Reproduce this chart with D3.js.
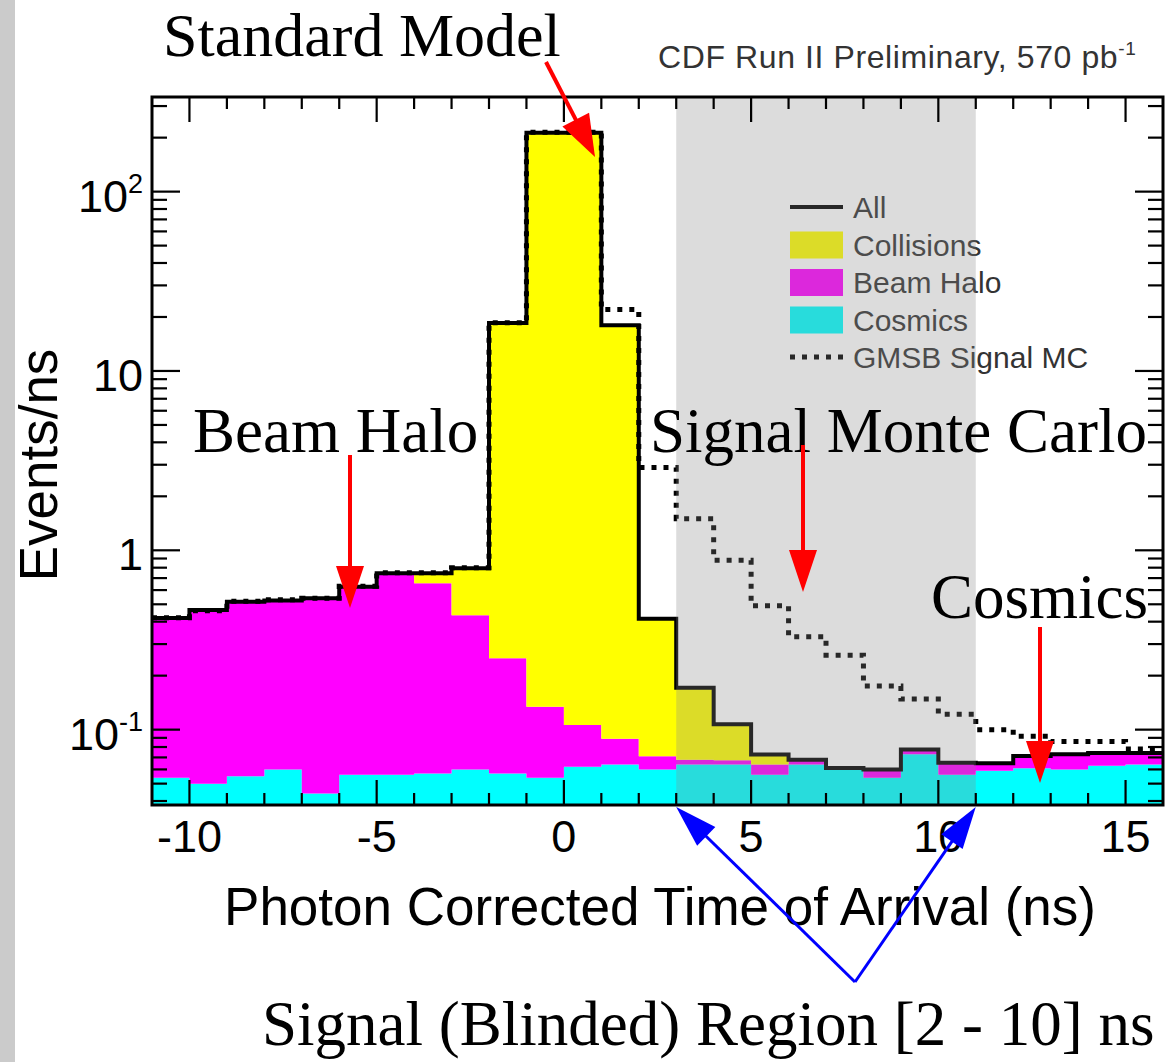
<!DOCTYPE html>
<html><head><meta charset="utf-8">
<script src="https://cdn.jsdelivr.net/npm/d3@7"></script>
<style>html,body{margin:0;padding:0;background:#fff}</style>
</head><body><svg id="c" width="1169" height="1062"></svg>
<script>
// ---- data (bin lower edges, 1 ns bins) ----
const binStart = [-11,-10,-9,-8,-7,-6,-5,-4,-3,-2,-1,0,1,2,3,4,5,6,7,8,9,10,11,12,13,14,15];
const binEndLast = 16;
const cosmics = [0.054,0.050,0.055,0.060,0.044,0.056,0.056,0.057,0.060,0.057,0.054,0.062,0.064,0.060,0.064,0.064,0.056,0.064,0.060,0.054,0.073,0.056,0.059,0.061,0.060,0.063,0.064];
const beamHalo = [0.365,0.414,0.462,0.465,0.496,0.571,0.688,0.598,0.375,0.193,0.080,0.044,0.025,0.011,0.004,0.0035,0.008,0.004,0.0012,0.006,0.0046,0.0093,0.006,0.0103,0.013,0.011,0.010];
const collisions = [0,0,0,0,0,0,0,0.09,0.359,18.25,212.9,212.9,17.9,0.344,0.103,0.0395,0.0086,0,0,0,0,0,0,0,0,0,0];
const gmsb = [0.42,0.46,0.52,0.53,0.54,0.63,0.75,0.75,0.80,18.6,214,214,22,2.9,1.5,0.88,0.49,0.33,0.26,0.175,0.148,0.122,0.100,0.092,0.086,0.086,0.078];
const blindedRegion = [3, 11];
const xTicks = [-10,-5,0,5,10,15];
const xTickLabels = ["-10","-5","0","5","10","15"];
const yTicks = [0.1,1,10,100];
const yTickBase = ["10","1","10","10"];
const yTickExp = ["-1","","","2"];
const legendLabels = ["All","Collisions","Beam Halo","Cosmics","GMSB Signal MC"];

// ---- setup ----
const svg = d3.select('#c');
const W = 1169, H = 1062;
const P = {left:152, right:1163, top:97, bottom:805};
const x = d3.scaleLinear().domain([-11,16]).range([P.left,P.right]);
const y = d3.scaleLog().domain([0.038,337]).range([P.bottom,P.top]);
const SANS = "'Liberation Sans', Arial, Helvetica, sans-serif";
const SERIF = "'Liberation Serif', 'Times New Roman', serif";

svg.append('rect').attr('width',W).attr('height',H).attr('fill','#fff');
svg.append('rect').attr('x',0).attr('y',0).attr('width',15).attr('height',H).attr('fill','#cbcbcb');

svg.append('clipPath').attr('id','clip').append('rect')
  .attr('x',P.left).attr('y',P.top).attr('width',P.right-P.left).attr('height',P.bottom-P.top);

const rows = binStart.map((b,i)=>({t:b, cos:cosmics[i], halo:beamHalo[i], coll:collisions[i], sig:gmsb[i]}));
rows.push(Object.assign({}, rows[rows.length-1], {t:binEndLast}));

const stack = d3.stack().keys(['cos','halo','coll'])(rows);
const fills = {cos:'#00ffff', halo:'#ff00ff', coll:'#ffff00'};
const g = svg.append('g').attr('clip-path','url(#clip)');
const area = d3.area().curve(d3.curveStepAfter)
  .x(d=>x(d.data.t))
  .y0(d=> d[0]>0 ? y(d[0]) : P.bottom)
  .y1(d=> d[1]>0 ? y(d[1]) : P.bottom);
g.selectAll('path.fill').data(stack).join('path')
  .attr('class','fill').attr('d',area).attr('fill',s=>fills[s.key]).attr('stroke','none');

const allLine = d3.line().curve(d3.curveStepAfter).x(d=>x(d.t)).y(d=>y(d.cos+d.halo+d.coll));
g.append('path').datum(rows).attr('d',allLine).attr('fill','none').attr('stroke','#000').attr('stroke-width',4);
const sigLine = d3.line().curve(d3.curveStepAfter).x(d=>x(d.t)).y(d=>y(d.sig));
g.append('path').datum(rows).attr('d',sigLine).attr('fill','none').attr('stroke','#000')
  .attr('stroke-width',5).attr('stroke-dasharray','5,7');

// ---- legend ----
const LX = 790, LW = 53, LT = 853;
const ly = d3.scalePoint().domain(legendLabels).range([207,357]);
const lg = svg.append('g');
legendLabels.forEach((lab,i)=>{
  const cy = ly(lab);
  if(i===0) lg.append('line').attr('x1',LX).attr('x2',LX+LW).attr('y1',cy).attr('y2',cy).attr('stroke','#000').attr('stroke-width',4);
  else if(i===4) lg.append('line').attr('x1',LX).attr('x2',LX+LW).attr('y1',cy).attr('y2',cy).attr('stroke','#000').attr('stroke-width',5).attr('stroke-dasharray','5,7');
  else lg.append('rect').attr('x',LX).attr('y',cy-13).attr('width',LW).attr('height',27)
        .attr('fill',[null,fills.coll,fills.halo,fills.cos][i]);
  lg.append('text').attr('x',LT).attr('y',cy+11).attr('font-family',SANS).attr('font-size',30)
    .attr('fill','#333').text(lab);
});

// ---- blinded region overlay ----
svg.append('rect').attr('x',x(blindedRegion[0])).attr('y',P.top)
  .attr('width',x(blindedRegion[1])-x(blindedRegion[0])).attr('height',P.bottom-P.top)
  .attr('fill','rgb(136,136,136)').attr('opacity',0.294);

// ---- frame & ticks ----
const ax = svg.append('g').attr('stroke','#000');
const xMinor = d3.range(-10,16,1);
xMinor.forEach(v=>{
  const len = (v%5===0)?25:12;
  ax.append('line').attr('x1',x(v)).attr('x2',x(v)).attr('y1',P.bottom).attr('y2',P.bottom-len).attr('stroke-width',2.2);
  ax.append('line').attr('x1',x(v)).attr('x2',x(v)).attr('y1',P.top).attr('y2',P.top+len).attr('stroke-width',2.2);
});
const [ymin,ymax] = y.domain();
const yMinor = [];
[0.01,0.1,1,10,100].forEach(d=>{ for(let m=1;m<=9;m++){ const v=m*d; if(v>=ymin && v<=ymax) yMinor.push({v, major:m===1}); } });
yMinor.forEach(o=>{
  const len = o.major?28:15;
  ax.append('line').attr('x1',P.left).attr('x2',P.left+len).attr('y1',y(o.v)).attr('y2',y(o.v)).attr('stroke-width',2.2);
  ax.append('line').attr('x1',P.right).attr('x2',P.right-len).attr('y1',y(o.v)).attr('y2',y(o.v)).attr('stroke-width',2.2);
});
svg.append('rect').attr('x',P.left).attr('y',P.top).attr('width',P.right-P.left).attr('height',P.bottom-P.top)
  .attr('fill','none').attr('stroke','#000').attr('stroke-width',3);

// tick labels
xTicks.forEach((v,i)=>{
  svg.append('text').attr('x',x(v)).attr('y',852).attr('text-anchor','middle')
    .attr('font-family',SANS).attr('font-size',45).attr('fill','#000').text(xTickLabels[i]);
});
yTicks.forEach((v,i)=>{
  const t = svg.append('text').attr('x',143).attr('y',y(v)+20).attr('text-anchor','end')
    .attr('font-family',SANS).attr('font-size',45).attr('fill','#000');
  t.append('tspan').text(yTickBase[i]);
  if(yTickExp[i]) t.append('tspan').attr('dy',-19).attr('font-size',27).text(yTickExp[i]);
});

// axis titles
svg.append('text').attr('x',660).attr('y',925).attr('text-anchor','middle')
  .attr('font-family',SANS).attr('font-size',53).attr('fill','#000').text('Photon Corrected Time of Arrival (ns)');
svg.append('text').attr('transform','translate(57,465) rotate(-90)').attr('text-anchor','middle')
  .attr('font-family',SANS).attr('font-size',53).attr('fill','#000').text('Events/ns');

const cdf = svg.append('text').attr('x',658).attr('y',68).attr('font-family',SANS).attr('font-size',32)
  .attr('letter-spacing',0.6).attr('fill','#333');
cdf.append('tspan').text('CDF Run II Preliminary, 570 pb');
cdf.append('tspan').attr('dy',-13).attr('font-size',19).text('-1');

// ---- annotations ----
const ann = [
  {t:'Standard Model', x:163, y:56, s:62},
  {t:'Beam Halo', x:193, y:452, s:63},
  {t:'Signal Monte Carlo', x:650, y:452, s:63},
  {t:'Cosmics', x:931, y:618, s:63},
  {t:'Signal (Blinded) Region [2 - 10] ns', x:262, y:1045, s:63}
];
ann.forEach(a=>svg.append('text').attr('x',a.x).attr('y',a.y).attr('font-family',SERIF)
  .attr('font-size',a.s).attr('fill','#000').text(a.t));

function arrow(x1,y1,x2,y2,color,w,hl,hw){
  const dx=x2-x1, dy=y2-y1, L=Math.hypot(dx,dy), ux=dx/L, uy=dy/L;
  const bx=x2-ux*hl, by=y2-uy*hl;
  svg.append('line').attr('x1',x1).attr('y1',y1).attr('x2',bx+ux*2).attr('y2',by+uy*2)
    .attr('stroke',color).attr('stroke-width',w);
  svg.append('path').attr('d',`M${x2},${y2}L${bx-uy*hw/2},${by+ux*hw/2}L${bx+uy*hw/2},${by-ux*hw/2}Z`).attr('fill',color);
}
arrow(546,62,595,157,'#ff0000',4,42,30);
arrow(350,455,350,608,'#ff0000',4,42,28);
arrow(803,445,803,592,'#ff0000',4,42,28);
arrow(1040,627,1040,783,'#ff0000',4,42,28);
arrow(855,982,x(blindedRegion[0]),P.bottom+2,'#0000ff',3,42,26);
arrow(855,982,x(blindedRegion[1]),P.bottom+2,'#0000ff',3,42,26);
</script></body></html>
